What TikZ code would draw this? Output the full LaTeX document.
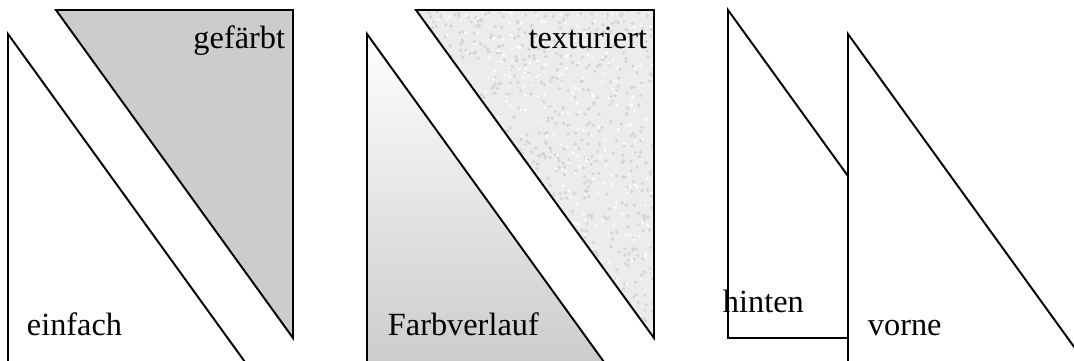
\documentclass[tikz,border=0pt]{standalone}
\usepackage{fontspec}
\setmainfont{Liberation Serif}
\usepackage{tikz}
\definecolor{fillgrey}{RGB}{204,204,204}
\definecolor{texgrey}{RGB}{236,236,234}
\definecolor{speckgrey}{RGB}{212,212,209}

\begin{document}
\begin{tikzpicture}[x=0.02cm, y=-0.02cm, line width=1.1pt,
  lbl/.style={inner sep=0pt, font=\fontsize{18.4}{21}\selectfont}]
  \useasboundingbox (0,0) rectangle (1074,360);
  % einfach / gefaerbt
  \draw (8,34) -- (245,362) -- (8,362) -- cycle;
  \filldraw[fill=fillgrey] (56,10) -- (293,10) -- (293,338) -- cycle;
  \node[lbl, anchor=base west] (einfach) at (26,335) {einfach};
  \node[lbl, anchor=base east] (gefaerbt) at (286,48) {gefärbt};
  % Farbverlauf / texturiert
  \shade[top color=white, bottom color=fillgrey] (367,34) -- (604,362) -- (367,362) -- cycle;
  \draw (367,34) -- (604,362) -- (367,362) -- cycle;
  \begin{scope}
    \clip (416,10) -- (654,10) -- (654,338) -- cycle;
    \fill[texgrey] (416,10) rectangle (654,338);
    \pgfmathsetseed{7}
    \foreach \i in {1,...,900}
      \fill[speckgrey] ({416+rnd*238},{10+rnd*328}) circle (1pt);
    \foreach \i in {1,...,500}
      \fill[white] ({416+rnd*238},{10+rnd*328}) circle (0.8pt);
  \end{scope}
  \draw (416,10) -- (654,10) -- (654,338) -- cycle;
  \node[lbl, anchor=base west] (verlauf) at (387,335) {Farbverlauf};
  \node[lbl, anchor=base east] (textur) at (648,48) {texturiert};
  % hinten / vorne
  \draw (728,10) -- (965,338) -- (728,338) -- cycle;
  \node[lbl, anchor=base west] (hinten) at (722,312) {hinten};
  \filldraw[fill=white] (848,34) -- (1085,362) -- (848,362) -- cycle;
  \node[lbl, anchor=base west] (vorne) at (867,335) {vorne};
\end{tikzpicture}
\end{document}
